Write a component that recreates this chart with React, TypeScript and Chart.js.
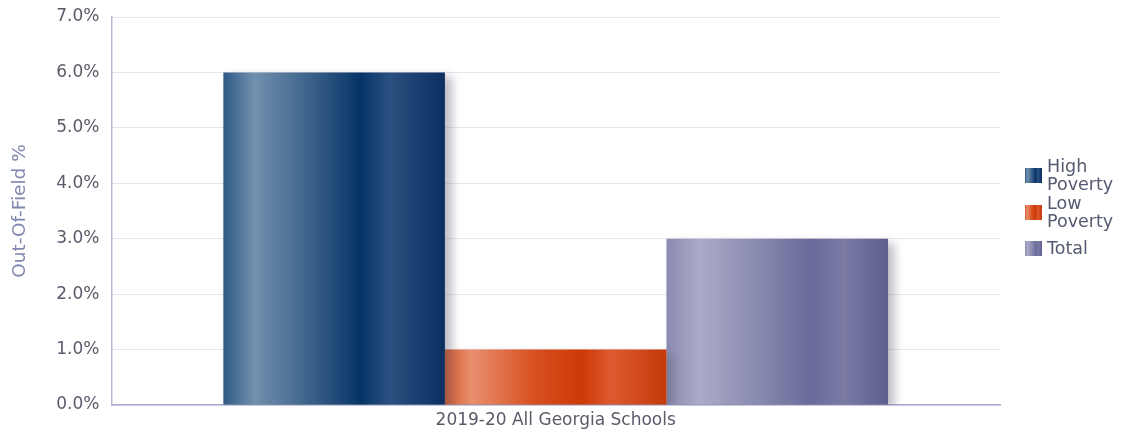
import React, { useEffect, useRef } from "react";
import { Chart, registerables } from "chart.js";

Chart.register(...registerables);

const categories = ["2019-20 All Georgia Schools"];
const seriesNames = [["High", "Poverty"], ["Low", "Poverty"], ["Total"]];
const highPoverty = [6.0];
const lowPoverty = [1.0];
const total = [3.0];
const yTicks = [0, 1, 2, 3, 4, 5, 6, 7];

const gradientStops: [number, string][][] = [
  [[0, "#2f5a85"], [0.14, "#7290ae"], [0.4, "#3a6088"], [0.62, "#063366"], [0.75, "#2a5080"], [1, "#0c2f60"]],
  [[0, "#d8582c"], [0.12, "#e8906f"], [0.4, "#d85020"], [0.62, "#cc3a06"], [0.75, "#dd5a30"], [1, "#c43a08"]],
  [[0, "#8a8ab0"], [0.15, "#abaac8"], [0.4, "#8a8cb0"], [0.65, "#6a6a9a"], [0.8, "#7a7aa5"], [1, "#5e5e8e"]],
];
const baseColors = ["#1f4a78", "#d44a1a", "#7a7aa8"];

const FONT = "'DejaVu Sans', Verdana, sans-serif";

const gradientPlugin = {
  id: "barGradients",
  beforeDatasetDraw(chart: any, args: any) {
    const ctx = chart.ctx;
    const meta = args.meta;
    const stops = gradientStops[args.index];
    meta.data.forEach((el: any) => {
      const w = el.width;
      const g = ctx.createLinearGradient(el.x - w / 2, 0, el.x + w / 2, 0);
      stops.forEach(([o, c]) => g.addColorStop(o, c));
      el.options.backgroundColor = g;
    });
    ctx.save();
    ctx.shadowColor = "rgba(90,90,110,0.4)";
    ctx.shadowBlur = 9;
    ctx.shadowOffsetX = 7;
    ctx.shadowOffsetY = 4;
  },
  afterDatasetDraw(chart: any) {
    chart.ctx.restore();
  },
};

function swatch(i: number) {
  const stops = gradientStops[i].map(([o, c]) => `${c} ${o * 100}%`).join(", ");
  return `linear-gradient(to right, ${stops})`;
}

export default function App() {
  const ref = useRef<HTMLCanvasElement>(null);
  useEffect(() => {
    document.body.style.margin = "0";
    const chart = new Chart(ref.current!, {
      type: "bar",
      data: {
        labels: categories,
        datasets: [
          { label: "High Poverty", data: highPoverty, backgroundColor: baseColors[0] },
          { label: "Low Poverty", data: lowPoverty, backgroundColor: baseColors[1] },
          { label: "Total", data: total, backgroundColor: baseColors[2] },
        ],
      },
      options: {
        animation: false,
        responsive: false,
        maintainAspectRatio: false,
        layout: { padding: { top: 17, right: 124, left: 9, bottom: 0 } },
        datasets: { bar: { categoryPercentage: 0.748, barPercentage: 1 } },
        plugins: { legend: { display: false }, tooltip: { enabled: false } },
        scales: {
          x: {
            grid: { display: false, drawTicks: false, tickLength: 0 },
            border: { color: "#a8a8cc", width: 1.5 },
            ticks: { color: "#5a5a6a", font: { family: FONT, size: 17 }, padding: 5 },
            afterFit: (scale: any) => {
              scale.height = 27;
              scale.paddingLeft = 0;
              scale.paddingRight = 0;
            },
          },
          y: {
            min: 0,
            max: 7,
            afterBuildTicks: (axis: any) => {
              axis.ticks = yTicks.map((v) => ({ value: v }));
            },
            afterFit: (scale: any) => {
              scale.paddingTop = 0;
              scale.paddingBottom = 0;
            },
            grid: { color: "#e6e6f0", drawTicks: false },
            border: { color: "#b8b8d4", width: 1.5 },
            ticks: {
              color: "#5a5a6a",
              font: { family: FONT, size: 17 },
              padding: 12,
              callback: (v: any) => Number(v).toFixed(1) + "%",
            },
            title: {
              display: true,
              text: "Out-Of-Field %",
              color: "#8088b0",
              font: { family: FONT, size: 18.5 },
              padding: { top: 0, bottom: 13 },
            },
          },
        },
      },
      plugins: [gradientPlugin],
    });
    return () => chart.destroy();
  }, []);

  return (
    <div style={{ position: "relative", width: 1124, height: 432 }}>
      <canvas ref={ref} width={1124} height={432} style={{ width: 1124, height: 432, display: "block" }} />
      <div style={{ position: "absolute", left: 1025, top: 157, fontFamily: FONT, fontSize: 17.5, color: "#555a70", lineHeight: "18px" }}>
        {seriesNames.map((lines, i) => (
          <div key={i} style={{ display: "flex", alignItems: "center", marginBottom: i === 1 ? 9 : 1 }}>
            <div style={{ width: 17, height: 15, background: swatch(i), marginRight: 5, flexShrink: 0 }} />
            <div>{lines.map((l, j) => <div key={j}>{l}</div>)}</div>
          </div>
        ))}
      </div>
    </div>
  );
}
